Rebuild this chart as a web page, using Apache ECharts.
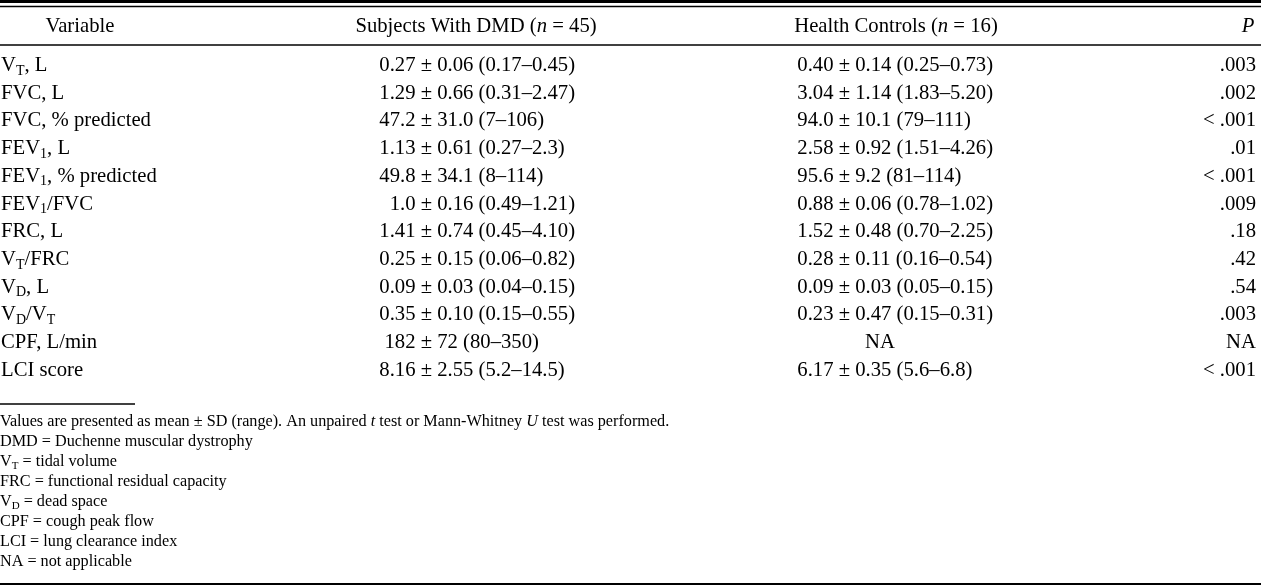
<!DOCTYPE html>
<html><head><meta charset="utf-8">
<script src="https://cdn.jsdelivr.net/npm/echarts@6/dist/echarts.min.js"></script>
<style>html,body{margin:0;padding:0;background:#fff}#c{width:1261px;height:588px}</style>
</head><body><div id="c"></div>
<script>
// ---------- data ----------
const headers = ['Variable', 'Subjects With DMD (*n* = 45)', 'Health Controls (*n* = 16)', '*P*'];
const variables = ['V_T, L', 'FVC, L', 'FVC, % predicted', 'FEV_1, L', 'FEV_1, % predicted', 'FEV_1/FVC',
  'FRC, L', 'V_T/FRC', 'V_D, L', 'V_D/V_T', 'CPF, L/min', 'LCI score'];
const dmdMean = ['0.27', '1.29', '47.2', '1.13', '49.8', '1.0', '1.41', '0.25', '0.09', '0.35', '182', '8.16'];
const dmdSD = ['0.06', '0.66', '31.0', '0.61', '34.1', '0.16', '0.74', '0.15', '0.03', '0.10', '72', '2.55'];
const dmdRange = ['0.17–0.45', '0.31–2.47', '7–106', '0.27–2.3', '8–114', '0.49–1.21', '0.45–4.10', '0.06–0.82',
  '0.04–0.15', '0.15–0.55', '80–350', '5.2–14.5'];
const ctrlMean = ['0.40', '3.04', '94.0', '2.58', '95.6', '0.88', '1.52', '0.28', '0.09', '0.23', 'NA', '6.17'];
const ctrlSD = ['0.14', '1.14', '10.1', '0.92', '9.2', '0.06', '0.48', '0.11', '0.03', '0.47', '', '0.35'];
const ctrlRange = ['0.25–0.73', '1.83–5.20', '79–111', '1.51–4.26', '81–114', '0.78–1.02', '0.70–2.25', '0.16–0.54',
  '0.05–0.15', '0.15–0.31', '', '5.6–6.8'];
const pValues = ['.003', '.002', '< .001', '.01', '< .001', '.009', '.18', '.42', '.54', '.003', 'NA', '< .001'];
const footnotes = [
  'Values are presented as mean ± SD (range). An unpaired *t* test or Mann-Whitney *U* test was performed.',
  'DMD = Duchenne muscular dystrophy',
  'V_T = tidal volume',
  'FRC = functional residual capacity',
  'V_D = dead space',
  'CPF = cough peak flow',
  'LCI = lung clearance index',
  'NA = not applicable'
];

// ---------- layout / style ----------
const FONT = "'Liberation Serif', 'Times New Roman', serif";
const INK = '#000';
const W = 1261;
const BASE = 20.7, FN = 16.2;
const ROW_TOP = 51.75, ROW_H = 27.7;
const X_VAR = 1, X_DMD = 415.5, X_CTRL = 833.5, X_CTRL_NA = 880, X_P = 1256;
const HEAD_Y = 27;
const FN_Y0 = 422, FN_DY = 20;

function rich(base) {
  const sub = Math.round(base * 0.68);
  return {
    t: { fontFamily: FONT, fontSize: base, color: INK, lineHeight: base + 4 },
    i: { fontFamily: FONT, fontSize: base, fontStyle: 'italic', color: INK, lineHeight: base + 4 },
    s: { fontFamily: FONT, fontSize: sub, color: INK, lineHeight: sub, verticalAlign: 'bottom' }
  };
}
function markup(str) {
  let out = str.replace(/\*([^*]+)\*/g, '}{i|$1}{t|').replace(/_([A-Z0-9])/g, '}{s|$1}{t|');
  return ('{t|' + out + '}').replace(/\{t\|\}/g, '');
}
const RB = rich(BASE), RF = rich(FN);
const rowIds = variables.map((_, i) => 'r' + i);

function textSeries(name, x, align, texts) {
  return {
    type: 'scatter', name, symbolSize: 0, silent: true,
    itemStyle: { color: INK, opacity: 1 },
    emphasis: { disabled: true },
    data: texts.map((t, i) => ({ value: [x, rowIds[i]], txt: t })).filter(d => d.txt !== ''),
    label: {
      show: true, position: 'inside', align, verticalAlign: 'middle', opacity: 1,
      color: INK, textBorderWidth: 0, fontFamily: FONT, fontSize: BASE,
      formatter: p => markup(p.data.txt), rich: RB
    }
  };
}

const graphics = [
  { type: 'line', shape: { x1: 0, y1: 1.5, x2: W, y2: 1.5 }, style: { stroke: INK, lineWidth: 3 } },
  { type: 'line', shape: { x1: 0, y1: 6.5, x2: W, y2: 6.5 }, style: { stroke: INK, lineWidth: 1.3 } },
  { type: 'line', shape: { x1: 0, y1: 45, x2: W, y2: 45 }, style: { stroke: INK, lineWidth: 1.3 } },
  { type: 'line', shape: { x1: 0, y1: 404, x2: 135, y2: 404 }, style: { stroke: INK, lineWidth: 1.5 } },
  { type: 'line', shape: { x1: 0, y1: 584, x2: W, y2: 584 }, style: { stroke: INK, lineWidth: 2 } }
];
const headX = [80, 476, 896, 1248];
headers.forEach((h, k) => graphics.push({
  type: 'text', x: headX[k], y: HEAD_Y,
  style: { text: markup(h), rich: RB, align: 'center', verticalAlign: 'middle', font: BASE + 'px ' + FONT, fill: INK }
}));
footnotes.forEach((f, k) => graphics.push({
  type: 'text', x: 0, y: FN_Y0 + k * FN_DY,
  style: { text: markup(f), rich: RF, align: 'left', verticalAlign: 'middle', font: FN + 'px ' + FONT, fill: INK }
}));

const chart = echarts.init(document.getElementById('c'), null, { renderer: 'canvas' });
chart.setOption({
  backgroundColor: '#fff',
  animation: false,
  grid: { left: 0, right: 0, top: ROW_TOP, height: ROW_H * variables.length },
  xAxis: { type: 'value', min: 0, max: W, show: false },
  yAxis: { type: 'category', data: rowIds, inverse: true, show: false },
  series: [
    textSeries('variable', X_VAR, 'left', variables),
    textSeries('dmdMean', X_DMD, 'right', dmdMean),
    textSeries('dmdRest', X_DMD, 'left', dmdMean.map((_, i) => ' ± ' + dmdSD[i] + ' (' + dmdRange[i] + ')')),
    textSeries('ctrlMean', X_CTRL, 'right', ctrlMean.map((m, i) => ctrlSD[i] === '' ? '' : m)),
    textSeries('ctrlNA', X_CTRL_NA, 'center', ctrlMean.map((m, i) => ctrlSD[i] === '' ? m : '')),
    textSeries('ctrlRest', X_CTRL, 'left', ctrlMean.map((_, i) => ctrlSD[i] === '' ? '' : ' ± ' + ctrlSD[i] + ' (' + ctrlRange[i] + ')')),
    textSeries('p', X_P, 'right', pValues)
  ],
  graphic: graphics
});
</script></body></html>
